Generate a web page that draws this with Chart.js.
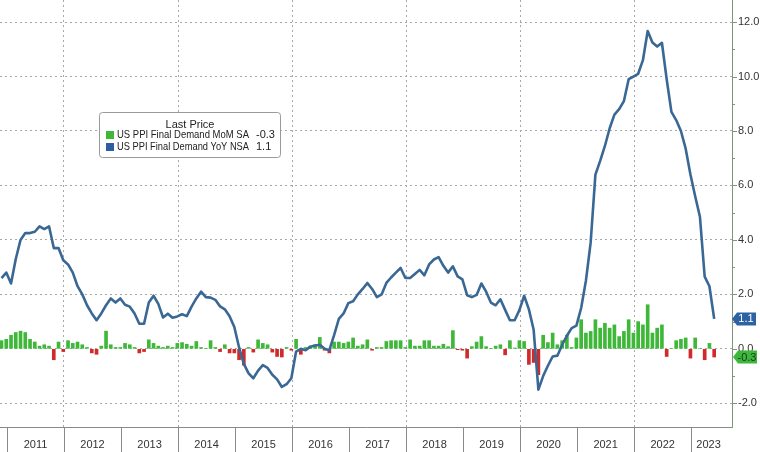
<!DOCTYPE html>
<html><head><meta charset="utf-8">
<script src="https://cdn.jsdelivr.net/npm/chart.js@4.4.0/dist/chart.umd.min.js"></script>
<style>html,body{margin:0;padding:0;background:#fff;}#wrap{width:760px;height:452px;}</style>
</head><body><div id="wrap"><canvas id="c" width="760" height="452"></canvas></div>
<script>
// first month shown: Nov 2010
const startYear = 2010, startMonth = 10;
const yearLabels = ['2011','2012','2013','2014','2015','2016','2017','2018','2019','2020','2021','2022','2023'];
const yTickValues = [-2,0,2,4,6,8,10,12];
const seriesNames = ['US PPI Final Demand MoM SA','US PPI Final Demand YoY NSA'];
const lastValues = ['-0.3','1.1'];

const yoyNSA = [
 2.6, 2.8,
 2.4, 3.3, 4.0, 4.25, 4.25, 4.3, 4.5, 4.4, 4.5, 3.7, 3.7, 3.25,
 3.1, 2.8, 2.3, 2.0, 1.6, 1.3, 1.05, 1.3, 1.6, 1.85, 1.7, 1.85,
 1.62, 1.55, 1.3, 0.92, 0.92, 1.7, 1.95, 1.65, 1.15, 1.29, 1.14, 1.19,
 1.27, 1.2, 1.55, 1.85, 2.1, 1.9, 1.88, 1.8, 1.56, 1.45, 1.2, 0.8,
 0.05, -0.55, -0.9, -1.08, -0.8, -0.6, -0.7, -0.95, -1.12, -1.4, -1.3, -1.08,
 -0.1, 0.0, -0.05, 0.08, 0.12, 0.15, 0.0, -0.05, 0.5, 1.1, 1.3, 1.68,
 1.75, 2.0, 2.2, 2.42, 2.2, 1.9, 2.0, 2.42, 2.62, 2.8, 2.97, 2.6,
 2.6, 2.75, 2.9, 2.7, 3.1, 3.28, 3.37, 3.05, 2.8, 3.03, 2.66, 2.55,
 1.97, 1.9, 1.98, 2.4, 2.1, 1.7, 1.6, 1.82, 1.43, 1.05, 1.05, 1.42,
 1.95, 1.45, 0.7, -1.5, -1.0, -0.62, -0.28, -0.25, 0.15, 0.48, 0.76, 0.85,
 1.5, 2.5, 3.9, 6.4, 6.9, 7.45, 8.1, 8.6, 8.8, 9.1, 9.9, 10.0,
 10.1, 10.6, 11.67, 11.25, 11.1, 11.24, 9.9, 8.7, 8.4, 8.0, 7.35, 6.4,
 5.6, 4.85, 2.65, 2.3, 1.1
];
const momSA = [
 0.3, 0.35,
 0.5, 0.6, 0.65, 0.6, 0.35, 0.25, 0.1, 0.15, 0.1, -0.4, 0.25, -0.1,
 0.3, 0.2, 0.25, 0.15, 0.05, -0.15, -0.2, 0.1, 0.65, 0.15, 0.05, 0.05,
 0.2, 0.15, 0.05, -0.15, -0.1, 0.33, 0.2, 0.1, 0.05, 0.1, 0.05, 0.2,
 0.23, 0.17, 0.1, 0.27, 0.05, 0.02, 0.3, 0.05, -0.1, 0.15, -0.15, -0.15,
 -0.4, -0.6, 0.05, -0.12, 0.33, 0.2, 0.15, -0.12, -0.28, -0.3, 0.05, -0.05,
 0.35, -0.2, 0.05, 0.1, 0.15, 0.42, -0.05, -0.15, 0.25, 0.25, 0.2, 0.25,
 0.4, 0.1, 0.15, 0.33, -0.05, 0.05, 0.05, 0.27, 0.3, 0.3, 0.3, 0.05,
 0.33, 0.1, 0.1, 0.3, 0.3, 0.1, 0.1, 0.17, 0.08, 0.67, -0.03, -0.05,
 -0.34, 0.08, 0.25, 0.45, 0.08, 0.02, 0.1, 0.15, -0.22, 0.3, 0.03, 0.3,
 0.27, -0.57, -0.5, -0.95, 0.5, 0.23, 0.58, 0.15, 0.3, 0.5, 0.05, 0.4,
 1.07, 0.58, 0.64, 1.07, 0.76, 0.94, 0.76, 0.88, 0.45, 0.64, 1.07, 0.58,
 1.0, 0.88, 1.62, 0.58, 0.76, 0.88, -0.28, 0.02, 0.3, 0.35, 0.4, -0.34,
 0.4, 0.02, -0.4, 0.2, -0.3
];

// month position on a linear axis (Jan 2011 boundary = 0, one unit per month)
const pos = i => (startYear - 2011) * 12 + startMonth + i + 0.85;
const lineData = yoyNSA.map((v, i) => ({x: pos(i), y: v}));
const barData = momSA.map((v, i) => ({x: pos(i), y: v}));

const GREEN = '#3fb83a', RED = '#d02a2a', BLUE = '#3a6894';
const FONT = '"Liberation Sans Narrow", "Liberation Sans", Arial, sans-serif';

const overlay = {
  id: 'overlay',
  afterDraw(chart) {
    const ctx = chart.ctx, xs = chart.scales.x, ys = chart.scales.y, ca = chart.chartArea;
    ctx.save();
    // right axis minor/major tick marks
    ctx.strokeStyle = '#7f937f'; ctx.lineWidth = 1;
    for (let v = -2; v <= 12; v++) {
      const y = Math.round(ys.getPixelForValue(v)) + 0.5;
      ctx.beginPath(); ctx.moveTo(ca.right, y); ctx.lineTo(ca.right + (v % 2 === 0 ? 5 : 3), y); ctx.stroke();
    }
    // bottom year boxes
    ctx.strokeStyle = '#8a8a8a';
    for (let k = 0; k < yearLabels.length; k++) {
      const x = Math.round(xs.getPixelForValue(k * 12)) + 0.5;
      ctx.beginPath(); ctx.moveTo(x, ca.bottom); ctx.lineTo(x, 452); ctx.stroke();
    }
    ctx.fillStyle = '#333'; ctx.font = '11px ' + FONT; ctx.textAlign = 'center'; ctx.textBaseline = 'middle';
    yearLabels.forEach((t, k) => {
      let cx = xs.getPixelForValue(k * 12 + 6);
      if (k === yearLabels.length - 1) cx = (xs.getPixelForValue(k * 12) + ca.right) / 2 - 3;
      ctx.fillText(t, cx, 445);
    });
    // last value tags
    const tag = (val, txt, fill, color, dx) => {
      const y = ys.getPixelForValue(val);
      const x0 = ca.right + dx;
      ctx.fillStyle = fill;
      ctx.beginPath();
      ctx.moveTo(x0, y); ctx.lineTo(x0 + 5, y - 6.5); ctx.lineTo(x0 + 24, y - 6.5);
      ctx.lineTo(x0 + 24, y + 6.5); ctx.lineTo(x0 + 5, y + 6.5); ctx.closePath(); ctx.fill();
      ctx.fillStyle = color; ctx.font = '11px ' + FONT; ctx.textAlign = 'center'; ctx.textBaseline = 'middle';
      ctx.fillText(txt, x0 + 14, y + 0.5);
    };
    tag(yoyNSA[yoyNSA.length - 1], lastValues[1], '#2d62a3', '#fff', 0);
    tag(momSA[momSA.length - 1], lastValues[0], '#3cb83c', '#1a3a1a', 1);
    // legend box
    const lx = 99.5, ly = 112.5, lw = 181, lh = 45;
    ctx.fillStyle = '#fff'; ctx.strokeStyle = '#9a9a9a'; ctx.lineWidth = 1;
    ctx.beginPath(); ctx.roundRect(lx, ly, lw, lh, 3); ctx.fill(); ctx.stroke();
    ctx.fillStyle = '#222'; ctx.font = '11px ' + FONT; ctx.textAlign = 'center'; ctx.textBaseline = 'middle';
    ctx.fillText('Last Price', 190, 125);
    ctx.textAlign = 'left';
    const rows = [[GREEN, seriesNames[0], lastValues[0], 135], ['#2d5fa0', seriesNames[1], lastValues[1], 147]];
    rows.forEach(([c, name, v, y]) => {
      ctx.fillStyle = c; ctx.fillRect(106, y - 4, 8, 8);
      ctx.fillStyle = '#222';
      ctx.fillText(name, 117, y, 132);
      ctx.fillText(v, 256, y);
    });
    ctx.restore();
  }
};

new Chart(document.getElementById('c'), {
  data: {
    datasets: [
      {type: 'line', data: lineData, borderColor: BLUE, borderWidth: 2.6, pointRadius: 0, tension: 0, order: 0, borderJoinStyle: 'round'},
      {type: 'bar', data: barData, backgroundColor: ctx => (ctx.raw && ctx.raw.y < 0 ? RED : GREEN), barThickness: 3, order: 1}
    ]
  },
  options: {
    responsive: false, animation: false, devicePixelRatio: 1,
    layout: {padding: 0},
    plugins: {legend: {display: false}, tooltip: {enabled: false}},
    scales: {
      x: {
        type: 'linear', min: -1.47, max: 152.6, position: 'bottom', offset: false, bounds: 'ticks',
        afterDataLimits: s => { s.min = -1.47; s.max = 152.6; },
        afterBuildTicks: s => { s.ticks = [12, 36, 60, 84, 108, 132].map(v => ({value: v})); },
        afterFit: s => { s.height = 25; s.paddingLeft = 0; s.paddingRight = 0; },
        ticks: {display: false},
        grid: {color: '#a8a8a8', drawTicks: false, lineWidth: 1, offset: false},
        border: {display: true, color: '#8a8a8a', dash: [2, 3]}
      },
      y: {
        type: 'linear', position: 'right', min: -2.87, max: 12.81,
        afterBuildTicks: s => { s.ticks = yTickValues.map(v => ({value: v})); },
        afterFit: s => { s.width = 28; s.paddingTop = 0; s.paddingBottom = 0; },
        ticks: {callback: v => v.toFixed(1), color: '#333', font: {size: 11, family: FONT}, padding: 6},
        grid: {color: '#a8a8a8', drawTicks: false, lineWidth: 1},
        border: {display: true, color: '#7f937f', dash: [2, 3]}
      }
    }
  },
  plugins: [overlay]
});
</script></body></html>
